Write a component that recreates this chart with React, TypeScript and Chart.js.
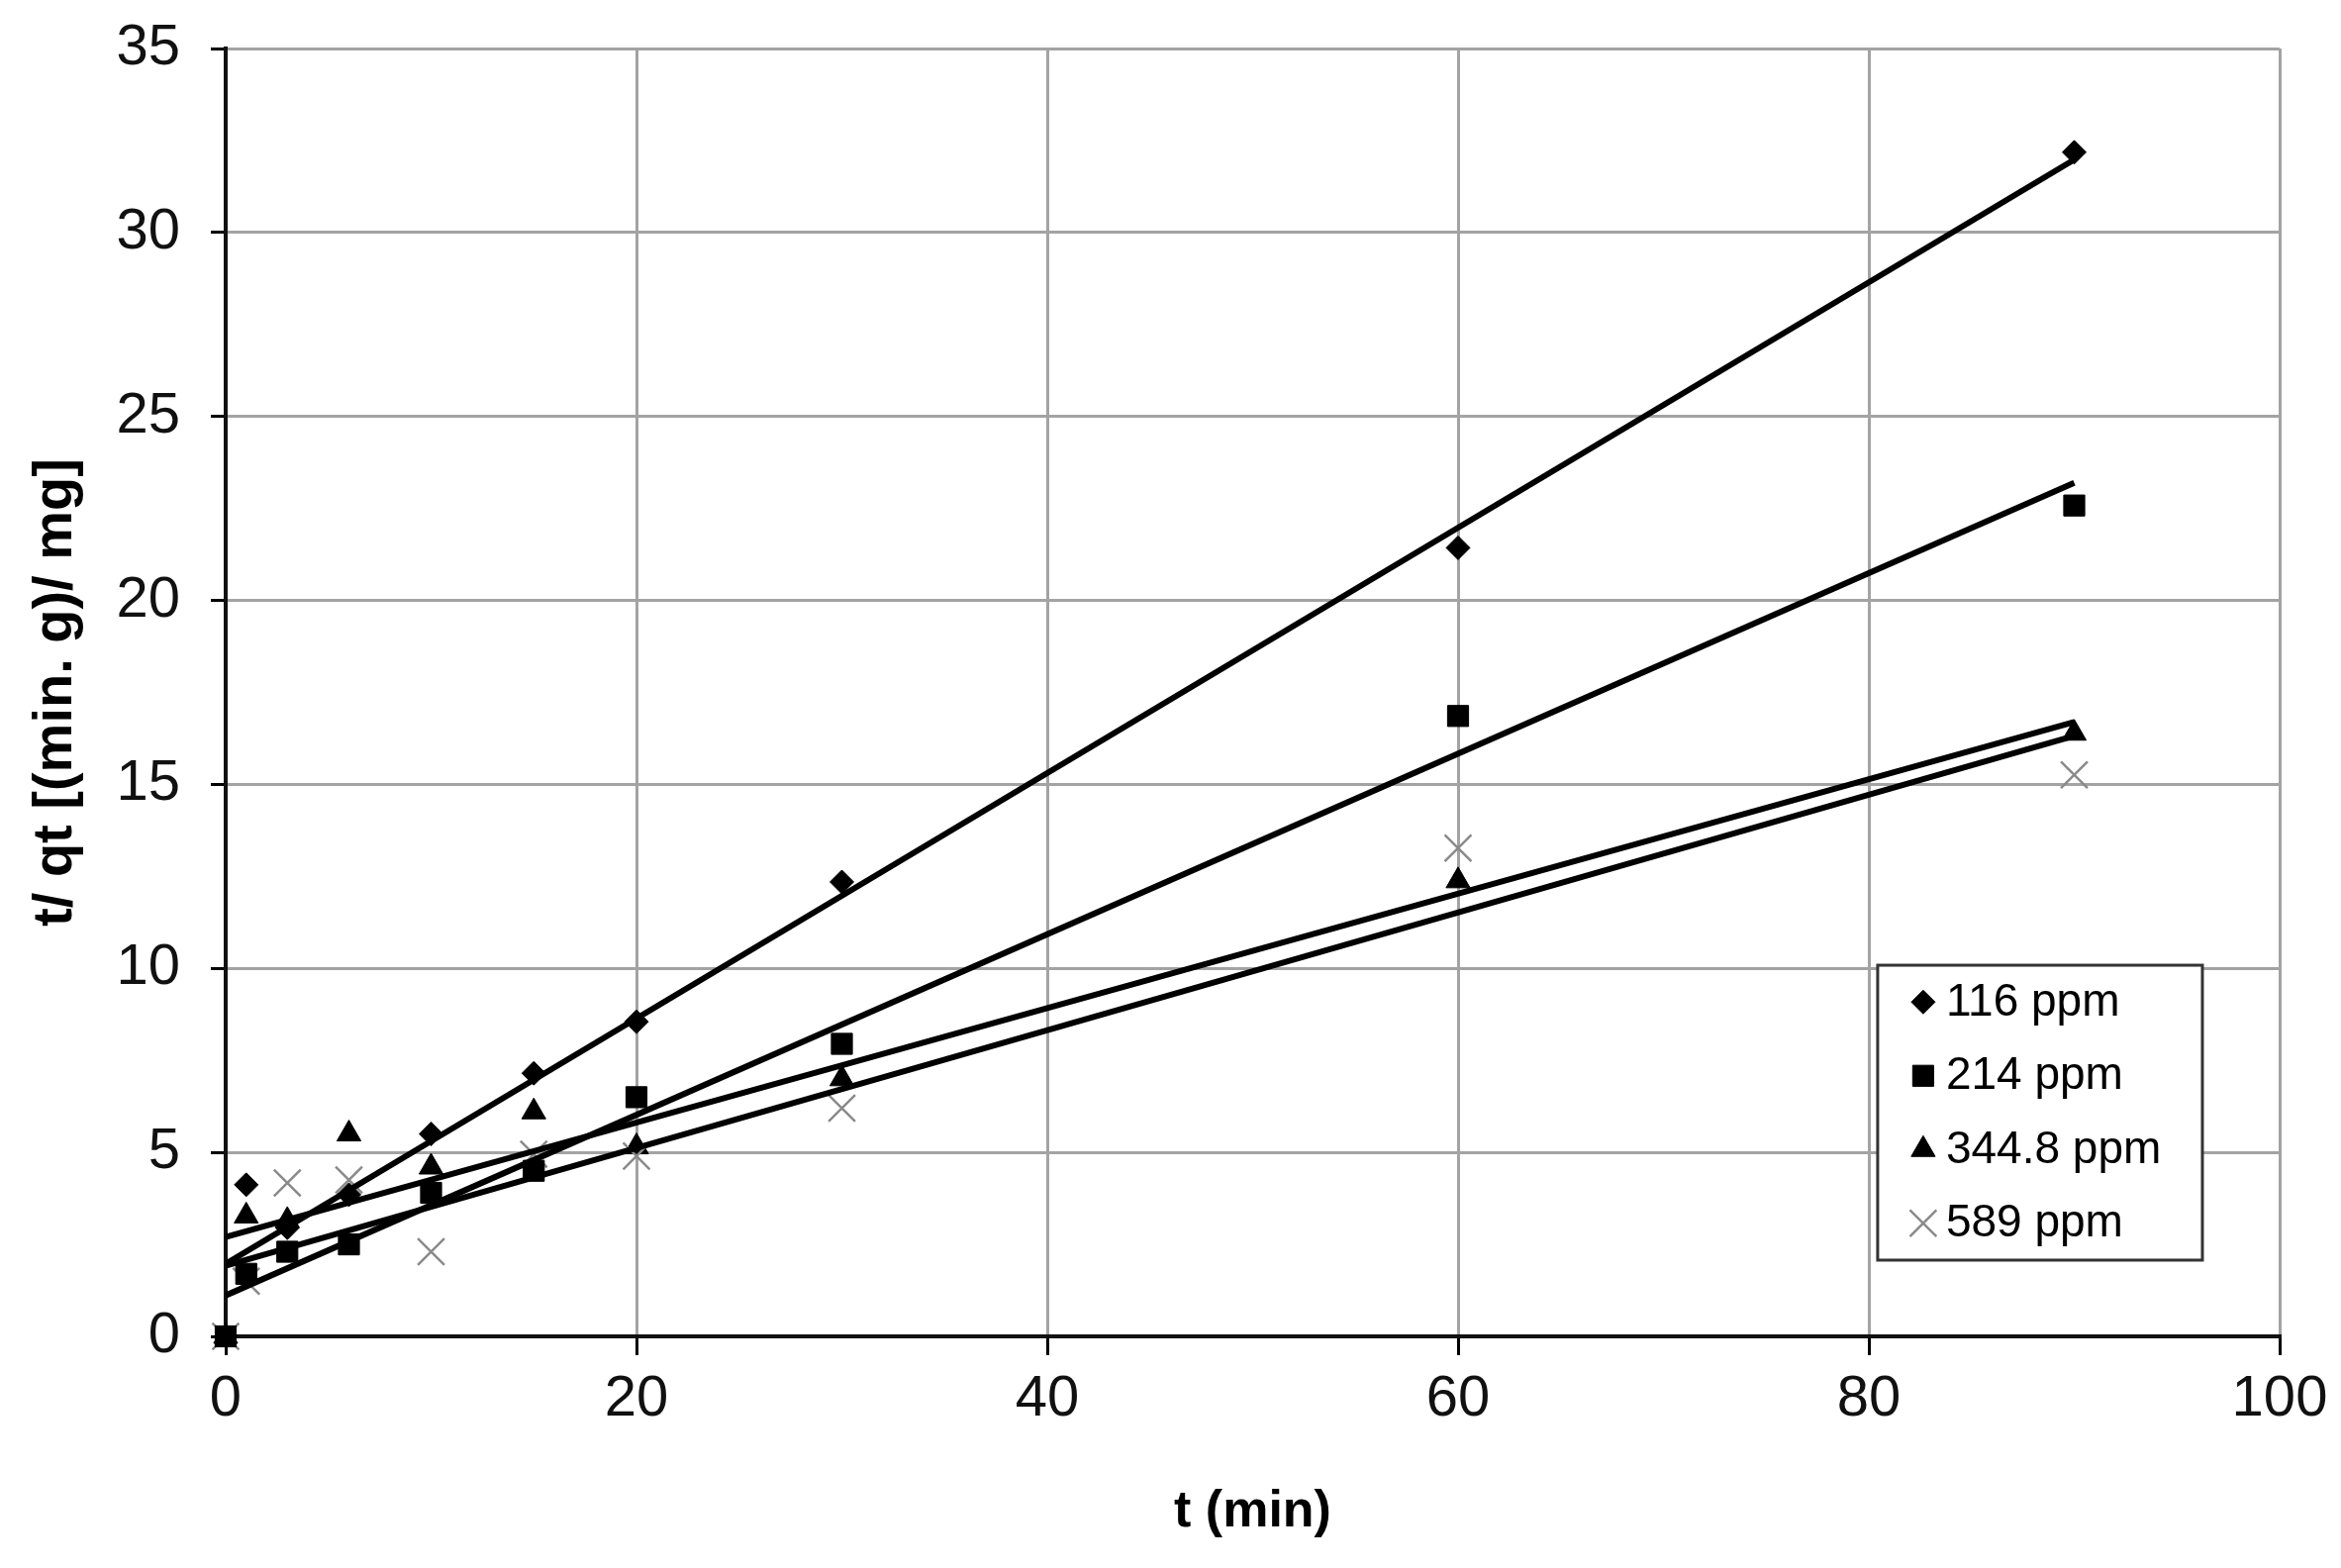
import React, { useEffect, useRef } from "react";
import { Chart, registerables } from "chart.js";

Chart.register(...registerables);

// ---- data ----
const times = [0, 1, 3, 6, 10, 15, 20, 30, 60, 90];
const series116 = [0, 4.12, 2.95, 3.85, 5.5, 7.15, 8.55, 12.35, 21.43, 32.18];
const series214 = [0, 1.7, 2.3, 2.5, 3.9, 4.5, 6.5, 7.95, 16.86, 22.58];
const series344 = [0, 3.27, 3.15, 5.5, 4.6, 6.1, 5.15, 7.0, 12.38, 16.39];
const series589 = [0, 1.5, 4.17, 4.25, 2.3, 4.95, 4.9, 6.2, 13.27, 15.26];
const seriesLabels = ["116 ppm", "214 ppm", "344.8 ppm", "589 ppm"];
const xTickValues = [0, 20, 40, 60, 80, 100];
const yTickValues = [0, 5, 10, 15, 20, 25, 30, 35];
const xTitle = "t (min)";
const yTitle = "t/ qt [(min. g)/ mg]";

const TICK_FONT = "'Liberation Sans Narrow', 'Arial Narrow', 'Liberation Sans', Arial, sans-serif";
const MAIN_FONT = "'Liberation Sans', Arial, sans-serif";

type MarkerStyle = { shape: string; radius: number; color: string; width: number; fill: boolean };
const markerStyles: MarkerStyle[] = [
  { shape: "rectRot", radius: 12, color: "#000000", width: 1, fill: true },
  { shape: "rect", radius: 15, color: "#000000", width: 1, fill: true },
  { shape: "triangle", radius: 14, color: "#000000", width: 1, fill: true },
  { shape: "crossRot", radius: 19, color: "#8a8a8a", width: 2.5, fill: false },
];
// drawing order of the marker sets (lower = drawn on top)
const markerOrder = [4, 1, 3, 2];

function linearFit(xs: number[], ys: number[]) {
  const n = xs.length;
  const mx = xs.reduce((a, b) => a + b, 0) / n;
  const my = ys.reduce((a, b) => a + b, 0) / n;
  let sxy = 0;
  let sxx = 0;
  for (let i = 0; i < n; i++) {
    sxy += (xs[i] - mx) * (ys[i] - my);
    sxx += (xs[i] - mx) * (xs[i] - mx);
  }
  const slope = sxy / sxx;
  return { slope, intercept: my - slope * mx };
}

function drawMarker(ctx: CanvasRenderingContext2D, st: MarkerStyle, x: number, y: number) {
  const r = st.radius;
  ctx.save();
  ctx.fillStyle = st.color;
  ctx.strokeStyle = st.color;
  ctx.lineWidth = st.width;
  ctx.beginPath();
  if (st.shape === "rectRot") {
    ctx.moveTo(x - r, y);
    ctx.lineTo(x, y - r);
    ctx.lineTo(x + r, y);
    ctx.lineTo(x, y + r);
    ctx.closePath();
  } else if (st.shape === "rect") {
    const s = Math.SQRT1_2 * r;
    ctx.rect(x - s, y - s, 2 * s, 2 * s);
  } else if (st.shape === "triangle") {
    ctx.moveTo(x, y - r);
    ctx.lineTo(x + 0.866 * r, y + 0.5 * r);
    ctx.lineTo(x - 0.866 * r, y + 0.5 * r);
    ctx.closePath();
  } else {
    const s = Math.SQRT1_2 * r;
    ctx.moveTo(x - s, y - s);
    ctx.lineTo(x + s, y + s);
    ctx.moveTo(x - s, y + s);
    ctx.lineTo(x + s, y - s);
  }
  if (st.fill) ctx.fill();
  ctx.stroke();
  ctx.restore();
}

const boxLegend = {
  id: "boxLegend",
  afterDraw(chart: any) {
    const ctx: CanvasRenderingContext2D = chart.ctx;
    const { left, top, width, height } = chart.chartArea;
    const bx = left + width * 0.8043;
    const bx2 = left + width * 0.9624;
    const by = top + height * 0.7118;
    const by2 = top + height * 0.9408;
    ctx.save();
    ctx.fillStyle = "#ffffff";
    ctx.fillRect(bx, by, bx2 - bx, by2 - by);
    ctx.strokeStyle = "#333333";
    ctx.lineWidth = 3;
    ctx.strokeRect(bx, by, bx2 - bx, by2 - by);
    const rowH = (by2 - by) / seriesLabels.length;
    ctx.font = `46px ${MAIN_FONT}`;
    ctx.fillStyle = "#000000";
    ctx.textBaseline = "middle";
    ctx.textAlign = "left";
    seriesLabels.forEach((label, i) => {
      const cy = by + rowH * (i + 0.5);
      drawMarker(ctx, markerStyles[i], bx + 46, cy);
      ctx.fillStyle = "#000000";
      ctx.fillText(label, bx + 69, cy + 1);
    });
    ctx.restore();
  },
};

export default function App() {
  const ref = useRef<HTMLCanvasElement>(null);

  useEffect(() => {
    const canvas = ref.current;
    if (!canvas) return;
    const allSeries = [series116, series214, series344, series589];
    const tMin = Math.min(...times);
    const tMax = Math.max(...times);

    const pointSets: any[] = allSeries.map((vals, i) => ({
      type: "scatter",
      label: seriesLabels[i],
      data: times.map((t, j) => ({ x: t, y: vals[j] })),
      showLine: false,
      clip: false,
      pointStyle: markerStyles[i].shape,
      pointRadius: markerStyles[i].radius,
      pointHoverRadius: markerStyles[i].radius,
      pointBackgroundColor: markerStyles[i].fill ? markerStyles[i].color : "rgba(0,0,0,0)",
      pointBorderColor: markerStyles[i].color,
      pointBorderWidth: markerStyles[i].width,
      order: markerOrder[i],
    }));

    const trendSets: any[] = allSeries.map((vals, i) => {
      const f = linearFit(times, vals);
      return {
        type: "line",
        label: seriesLabels[i] + " trend",
        data: [
          { x: tMin, y: f.intercept + f.slope * tMin },
          { x: tMax, y: f.intercept + f.slope * tMax },
        ],
        borderColor: "#000000",
        borderWidth: 6,
        pointRadius: 0,
        fill: false,
        tension: 0,
        order: 0,
      };
    });

    const chart = new Chart(canvas, {
      type: "scatter",
      data: { datasets: [...pointSets, ...trendSets] },
      plugins: [boxLegend],
      options: {
        animation: false,
        responsive: true,
        maintainAspectRatio: false,
        devicePixelRatio: 1,
        layout: { padding: { left: 0, right: 62, top: 49, bottom: 0 } },
        plugins: {
          legend: { display: false },
          tooltip: { enabled: false },
        },
        scales: {
          x: {
            type: "linear",
            min: 0,
            max: 100,
            afterBuildTicks: (s: any) => {
              s.ticks = xTickValues.map((v) => ({ value: v }));
            },
            afterFit: (s: any) => {
              s.height = 234;
              s.paddingLeft = 0;
              s.paddingRight = 0;
            },
            ticks: {
              font: { family: TICK_FONT, size: 58 },
              color: "#111111",
              padding: 10,
              maxRotation: 0,
            },
            grid: {
              color: "#a3a3a3",
              lineWidth: 3,
              tickLength: 19,
              tickColor: "#000000",
              tickWidth: 3,
            },
            border: { color: "#111111", width: 4 },
            title: {
              display: true,
              text: xTitle,
              font: { family: MAIN_FONT, size: 52, weight: "bold" },
              color: "#000000",
              padding: { top: 0, bottom: 25 },
            },
          },
          y: {
            type: "linear",
            min: 0,
            max: 35,
            afterBuildTicks: (s: any) => {
              s.ticks = yTickValues.map((v) => ({ value: v }));
            },
            afterFit: (s: any) => {
              s.width = 228;
              s.paddingTop = 0;
              s.paddingBottom = 0;
            },
            ticks: {
              font: { family: TICK_FONT, size: 58 },
              color: "#111111",
              padding: 31,
            },
            grid: {
              color: "#a3a3a3",
              lineWidth: 3,
              tickLength: 15,
              tickColor: "#000000",
              tickWidth: 3,
            },
            border: { color: "#111111", width: 4 },
            title: {
              display: true,
              text: yTitle,
              font: { family: MAIN_FONT, size: 56, weight: "bold" },
              color: "#000000",
              padding: { top: 23, bottom: 0 },
            },
          },
        },
      } as any,
    });
    return () => chart.destroy();
  }, []);

  return (
    <div
      style={{
        position: "absolute",
        left: 0,
        top: 0,
        width: 2365,
        height: 1584,
        background: "#ffffff",
      }}
    >
      <canvas ref={ref} />
    </div>
  );
}
